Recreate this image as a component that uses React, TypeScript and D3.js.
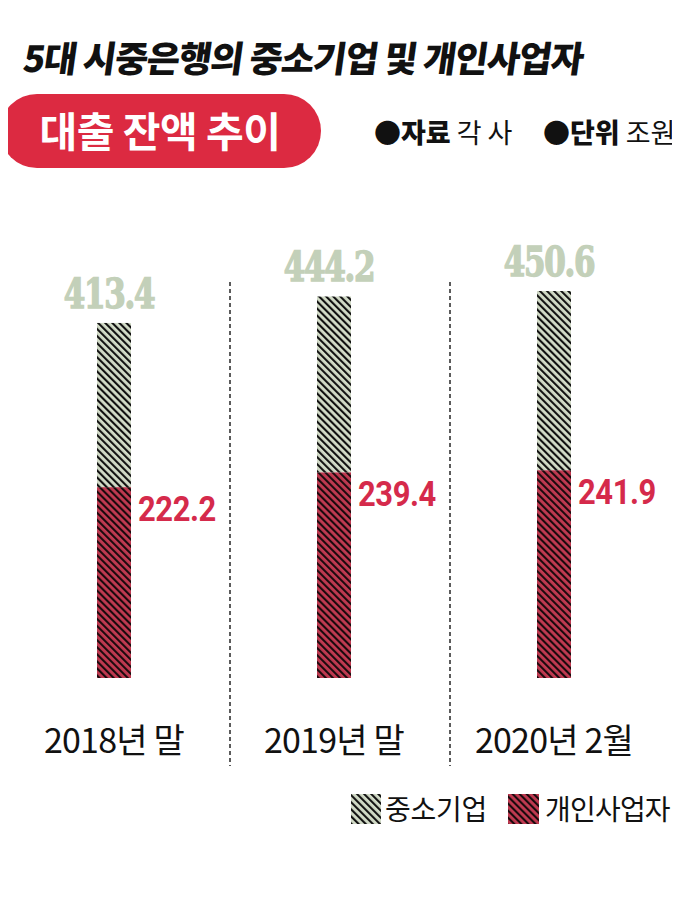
import React from "react";
import * as d3 from "d3";

const categories = ["2018년 말", "2019년 말", "2020년 2월"];
const smeTotal = [413.4, 444.2, 450.6];
const soleProp = [222.2, 239.4, 241.9];
const seriesNames = ["중소기업", "개인사업자"];
const titleText = "5대 시중은행의 중소기업 및 개인사업자";
const pillText = "대출 잔액 추이";

const W = 680;
const H = 914;
const GREEN_FILL = "#d3dcc8";
const GREEN_TEXT = "#c3d0b9";
const RED_FILL = "#c13a51";
const RED_TEXT = "#d52a4b";
const PILL = "#dc2a41";
const KR = "'Noto Sans CJK KR', 'Noto Sans', sans-serif";

export default function App() {
  const x = d3.scaleBand<string>().domain(categories).range([4, 664]).paddingInner(0.85).paddingOuter(0.425);
  const y = d3.scaleLinear().domain([0, 450.6]).range([678, 291]);
  const bw = 34;
  const cx = (c: string) => (x(c) as number) + x.bandwidth() / 2;
  const step = x.step();

  return (
    <svg width={W} height={H} viewBox={`0 0 ${W} ${H}`} style={{ display: "block", margin: "-8px 0 0 -8px" }}>
      <defs>
        <pattern id="hatchG" patternUnits="userSpaceOnUse" width={5} height={5} patternTransform="rotate(-45)">
          <rect width={5} height={5} fill={GREEN_FILL} />
          <rect x={0} y={0} width={2.1} height={5} fill="#111" />
        </pattern>
        <pattern id="hatchR" patternUnits="userSpaceOnUse" width={5} height={5} patternTransform="rotate(-45)">
          <rect width={5} height={5} fill={RED_FILL} />
          <rect x={0} y={0} width={2.1} height={5} fill="#1a0a0d" />
        </pattern>
      </defs>
      <rect width={W} height={H} fill="#fff" />

      <text x={22} y={72} fontFamily={KR} fontWeight={900} fontSize={36} letterSpacing={-1.2} fill="#111" transform="skewX(-8) translate(10,0)">
        {titleText}
      </text>

      <rect x={0} y={94} width={321} height={74} rx={37} fill={PILL} />
      <text x={160} y={147} textAnchor="middle" fontFamily={KR} fontWeight={700} fontSize={41} fill="#fff" letterSpacing={-0.5}>
        {pillText}
      </text>

      <g fontFamily={KR} fontSize={27} fill="#111">
        <text x={374} y={143}>
          <tspan fontWeight={900}>●자료</tspan>
          <tspan fontWeight={400}> 각 사</tspan>
        </text>
        <text x={543} y={143}>
          <tspan fontWeight={900}>●단위</tspan>
          <tspan fontWeight={400}> 조원</tspan>
        </text>
      </g>

      {categories.slice(0, -1).map((c) => (
        <line key={"d" + c} x1={cx(c) + step / 2 + 6} x2={cx(c) + step / 2 + 6} y1={282} y2={766} stroke="#333" strokeWidth={1.6} strokeDasharray="4 3" />
      ))}

      {categories.map((c, i) => (
        <g key={c}>
          <rect x={cx(c) - bw / 2} y={y(smeTotal[i])} width={bw} height={y(soleProp[i]) - y(smeTotal[i])} fill="url(#hatchG)" />
          <rect x={cx(c) - bw / 2} y={y(soleProp[i])} width={bw} height={y(0) - y(soleProp[i])} fill="url(#hatchR)" />
          <text transform={`translate(${cx(c) - 5},${y(smeTotal[i]) - 15}) scale(0.84,1)`} textAnchor="middle" fontFamily="'DejaVu Serif Condensed', 'DejaVu Serif', serif" fontWeight={700} fontSize={41} letterSpacing={-1.5} fill={GREEN_TEXT} stroke={GREEN_TEXT} strokeWidth={1.4}>
            {smeTotal[i].toFixed(1)}
          </text>
          <text transform={`translate(${cx(c) + bw / 2 + 7},${y(soleProp[i]) + 34}) scale(0.86,1)`} fontFamily="Roboto, 'Noto Sans', sans-serif" fontWeight={700} fontSize={36} letterSpacing={-0.5} fill={RED_TEXT}>
            {soleProp[i].toFixed(1)}
          </text>
          <text x={cx(c)} y={753} textAnchor="middle" fontFamily={KR} fontWeight={400} fontSize={34} letterSpacing={-0.8} fill="#111">
            {c}
          </text>
        </g>
      ))}

      <g fontFamily={KR} fontSize={28} fill="#111">
        <rect x={351} y={794} width={30} height={30} fill="url(#hatchG)" />
        <text x={385} y={820} letterSpacing={-0.3}>{seriesNames[0]}</text>
        <rect x={508} y={794} width={31} height={30} fill="url(#hatchR)" />
        <text x={545} y={820} letterSpacing={-0.8}>{seriesNames[1]}</text>
      </g>
    </svg>
  );
}
